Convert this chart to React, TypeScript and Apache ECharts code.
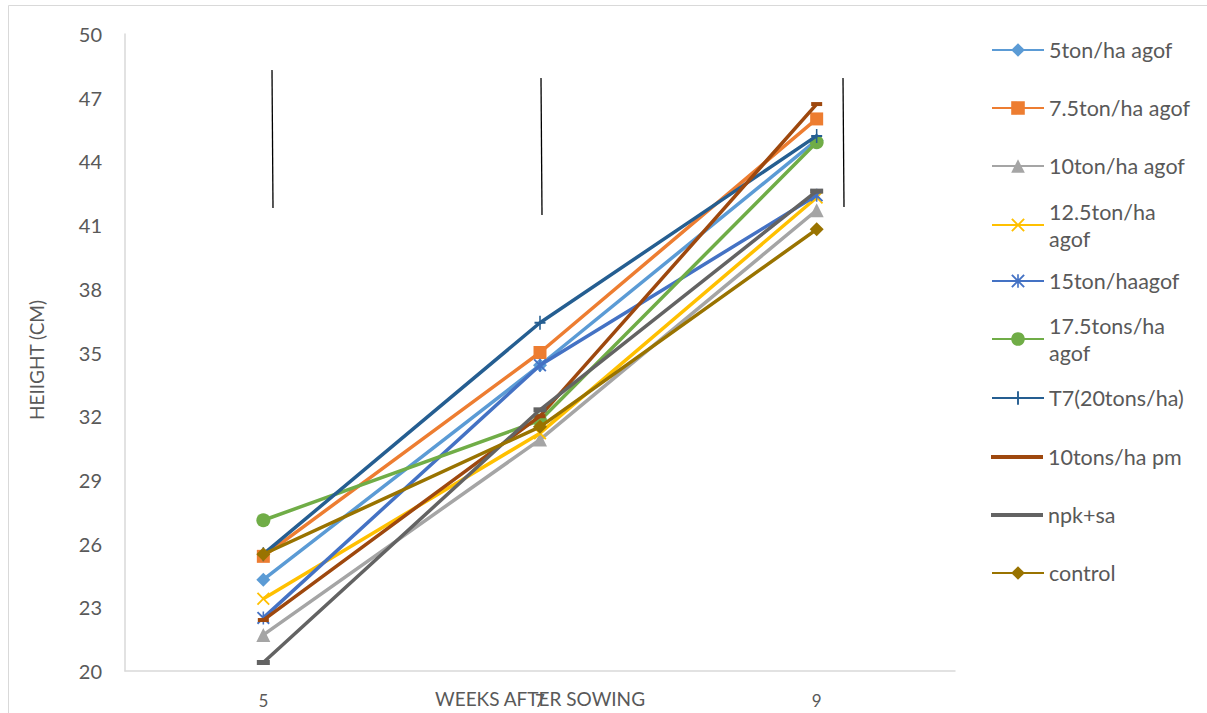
import React, { useEffect, useRef } from "react";
import * as echarts from "echarts";

const weeks = ["5", "7", "9"];
const seriesNames = [
  "5ton/ha agof",
  "7.5ton/ha agof",
  "10ton/ha agof",
  "12.5ton/ha agof",
  "15ton/haagof",
  "17.5tons/ha agof",
  "T7(20tons/ha)",
  "10tons/ha pm",
  "npk+sa",
  "control",
];
const v5ton = [24.3, 34.4, 45.0];
const v75ton = [25.4, 35.0, 46.0];
const v10ton = [21.7, 30.9, 41.7];
const v125ton = [23.4, 31.2, 42.3];
const v15ton = [22.5, 34.4, 42.4];
const v175ton = [27.1, 31.8, 44.9];
const vT7 = [25.5, 36.4, 45.2];
const v10pm = [22.4, 32.0, 46.7];
const vNpk = [20.4, 32.3, 42.6];
const vControl = [25.5, 31.5, 40.8];
const seriesValues = [v5ton, v75ton, v10ton, v125ton, v15ton, v175ton, vT7, v10pm, vNpk, vControl];

const colors = ["#5B9BD5", "#ED7D31", "#A5A5A5", "#FFC000", "#4472C4", "#70AD47", "#255E91", "#9E480E", "#636363", "#997300"];

const X_SYM = "path://M1,0 L5,4 L9,0 L10,1 L6,5 L10,9 L9,10 L5,6 L1,10 L0,9 L4,5 L0,1 Z";
const AST_SYM = "path://M1,0 L5,4 L9,0 L10,1 L6,5 L10,9 L9,10 L5,6 L1,10 L0,9 L4,5 L0,1 Z M4.4,0 L5.6,0 L5.6,10 L4.4,10 Z";
const PLUS_SYM = "path://M4.3,0 L5.7,0 L5.7,4.3 L10,4.3 L10,5.7 L5.7,5.7 L5.7,10 L4.3,10 L4.3,5.7 L0,5.7 L0,4.3 L4.3,4.3 Z";

const symbols: any[] = ["diamond", "rect", "triangle", X_SYM, AST_SYM, "circle", PLUS_SYM, "rect", "rect", "diamond"];
const symbolSizes: any[] = [14, 13, 14, 13, 13, 14, [11, 14], [11, 4], [13, 5], 14];
const dashLegend = ["10tons/ha pm", "npk+sa"];

const legendCenters = [50, 108, 166, 225, 281, 339, 398, 457, 515, 573];
const wrapNames: Record<string, string> = {
  "12.5ton/ha agof": "12.5ton/ha\nagof",
  "17.5tons/ha agof": "17.5tons/ha\nagof",
};

const FONT = "Lato, 'Open Sans', sans-serif";
const LH = 27;

export default function App() {
  const ref = useRef<HTMLDivElement>(null);
  useEffect(() => {
    if (!ref.current) return;
    const chart = echarts.init(ref.current, undefined, { renderer: "svg" });
    const legends = seriesNames.map((name, i) => {
      const wrapped = !!wrapNames[name];
      const dash = dashLegend.includes(name);
      return {
        data: [dash ? { name, icon: "rect" } : name],
        left: 991,
        top: wrapped ? legendCenters[i] - 1.5 * LH : legendCenters[i] - LH / 2,
        padding: 0,
        itemWidth: 52,
        itemHeight: dash ? 4 : 17,
        formatter: (n: string) => wrapNames[n] || n,
        textStyle: {
          fontFamily: FONT,
          fontSize: 21.5,
          color: "#595959",
          lineHeight: LH,
          padding: wrapped ? [LH, 0, 0, 0] : 0,
        },
      };
    });
    chart.setOption({
      animation: false,
      backgroundColor: "#fff",
      grid: { left: 125, right: 252, top: 34, bottom: 42, containLabel: false, outerBoundsMode: "none" },
      xAxis: {
        type: "category",
        data: weeks,
        boundaryGap: true,
        axisLine: { show: true, lineStyle: { color: "#d9d9d9", width: 1.5 } },
        axisTick: { show: false },
        axisLabel: { margin: 21, fontFamily: FONT, fontSize: 17, color: "#595959" },
      },
      yAxis: {
        type: "value",
        min: 20,
        max: 50,
        interval: 3,
        axisLine: { show: true, lineStyle: { color: "#d9d9d9", width: 1.5 } },
        axisTick: { show: false },
        splitLine: { show: false },
        axisLabel: { margin: 23, fontFamily: FONT, fontSize: 20, color: "#595959" },
      },
      legend: legends,
      series: seriesNames.map((name, i) => ({
        name,
        type: "line",
        data: seriesValues[i],
        symbol: symbols[i],
        symbolSize: symbolSizes[i],
        showSymbol: true,
        lineStyle: { color: colors[i], width: 3.5 },
        itemStyle: { color: colors[i], borderWidth: 0 },
        emphasis: { disabled: true },
        z: 2 + i,
      })),
      graphic: [
        { type: "rect", shape: { x: 8.5, y: 5.5, width: 1200, height: 720 }, style: { fill: "none", stroke: "#d9d9d9", lineWidth: 1 }, silent: true },
        { type: "line", shape: { x1: 272, y1: 70, x2: 273, y2: 208 }, style: { stroke: "#000", lineWidth: 1.3 }, silent: true },
        { type: "line", shape: { x1: 541, y1: 78, x2: 542, y2: 215 }, style: { stroke: "#000", lineWidth: 1.3 }, silent: true },
        { type: "line", shape: { x1: 843, y1: 78, x2: 844, y2: 207 }, style: { stroke: "#000", lineWidth: 1.3 }, silent: true },
        {
          type: "text",
          x: 540,
          y: 698,
          style: {
            text: "WEEKS AFTER SOWING",
            fontFamily: FONT,
            fontSize: 19,
            fill: "#595959",
            align: "center",
            verticalAlign: "middle",
          },
          silent: true,
        },
        {
          type: "text",
          x: 36,
          y: 360,
          rotation: Math.PI / 2,
          style: {
            text: "HEIIGHT (CM)",
            fontFamily: FONT,
            fontSize: 19,
            fill: "#595959",
            align: "center",
            verticalAlign: "middle",
          },
          silent: true,
        },
      ],
    });
    return () => chart.dispose();
  }, []);
  return <div ref={ref} style={{ position: "absolute", left: 0, top: 0, width: 1207, height: 713 }} />;
}
